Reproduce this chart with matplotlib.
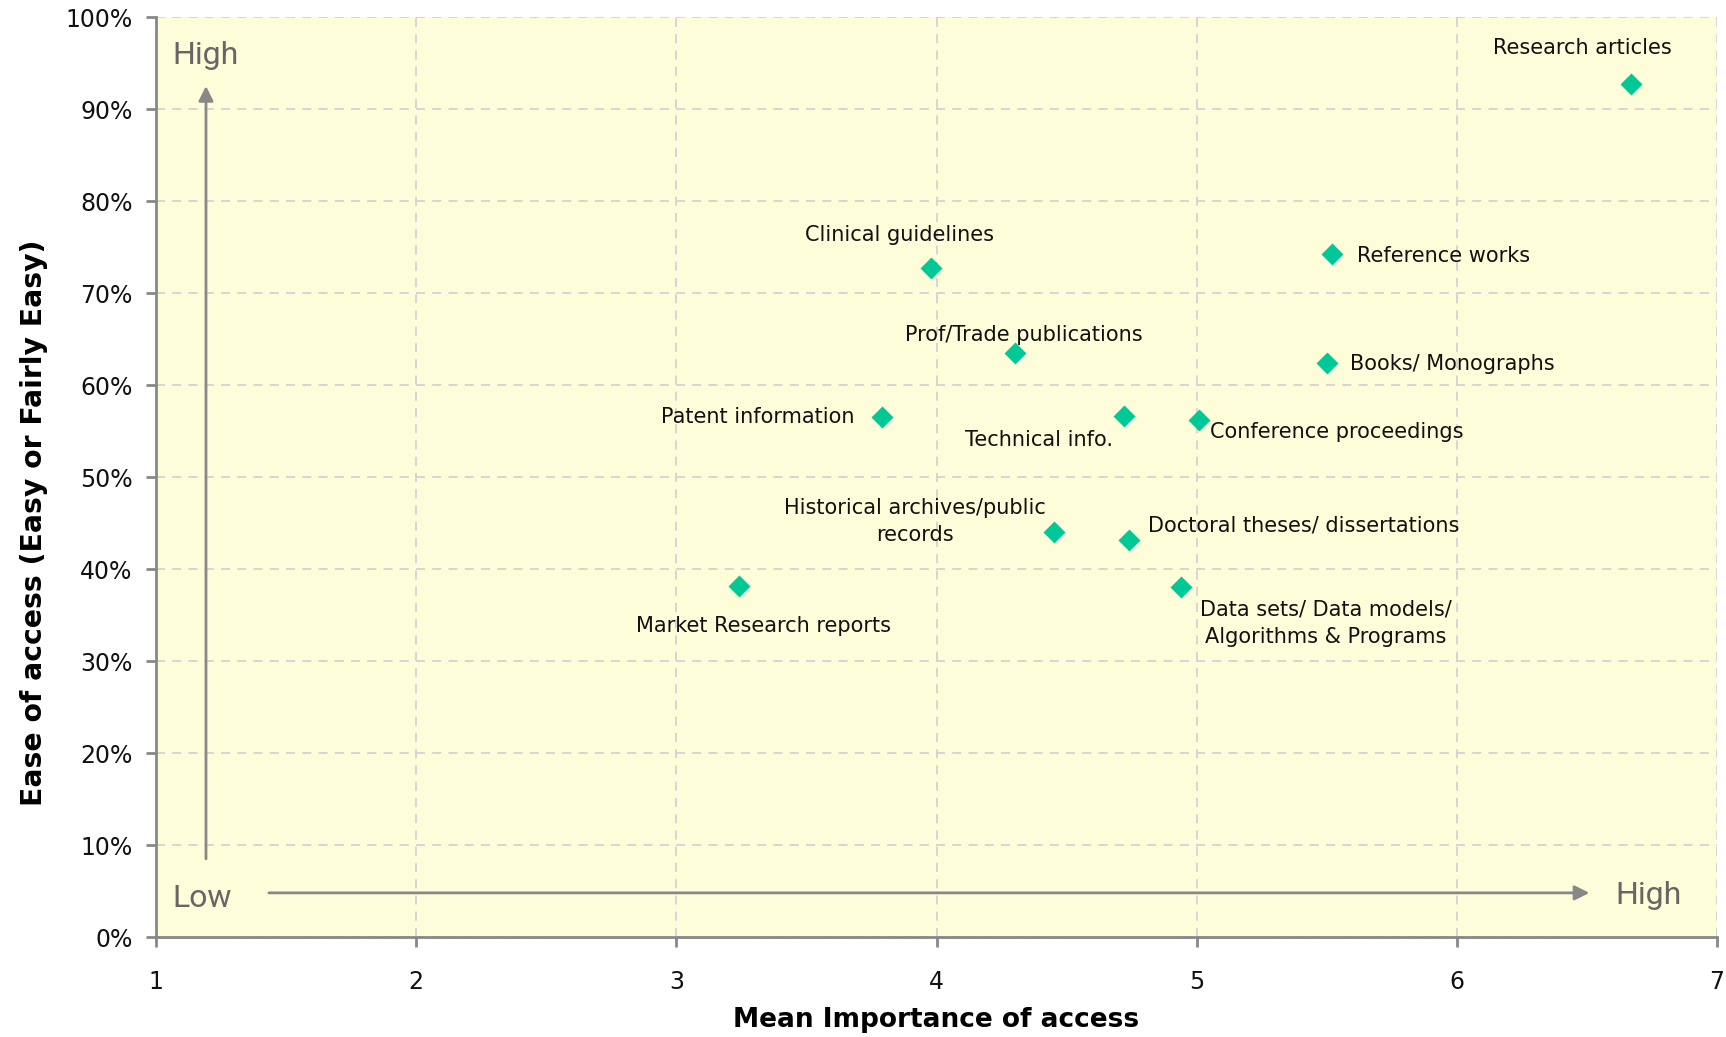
import numpy as np
import matplotlib
matplotlib.use("Agg")
import matplotlib.pyplot as plt
from matplotlib.ticker import PercentFormatter

# data
labels = ["Research articles", "Reference works", "Books/ Monographs",
          "Clinical guidelines", "Prof/Trade publications", "Patent information",
          "Technical info.", "Conference proceedings",
          "Historical archives/public\nrecords", "Doctoral theses/ dissertations",
          "Data sets/ Data models/\nAlgorithms & Programs", "Market Research reports"]
importance = [6.67, 5.52, 5.50, 3.98, 4.30, 3.79, 4.72, 5.01, 4.45, 4.74, 4.94, 3.24]
ease = [92.7, 74.2, 62.4, 72.7, 63.5, 56.5, 56.6, 56.2, 44.0, 43.2, 38.0, 38.2]

# label offsets (points) and alignment
offsets = [(-35, 26, "center"), (18, -1, "left"), (17, -1, "left"),
           (-23, 24, "center"), (7, 13, "center"), (-20, 0, "right"),
           (-61, -17, "center"), (8, -9, "left"), (-100, 8, "center"),
           (14, 10, "left"), (104, -26, "center"), (18, -29, "center")]

plt.rcParams['font.family'] = ['DejaVu Sans']

fig = plt.figure(figsize=(17.26, 10.37), dpi=100)
ax = fig.add_axes([0.0904, 0.0964, 0.9044, 0.8872])
ax.set_facecolor("#fdfdd9")

ax.scatter(importance, ease, marker="D", s=125, color="#00c896", zorder=3, linewidths=0)

for lab, x, y, (dx, dy, ha) in zip(labels, importance, ease, offsets):
    ax.annotate(lab, (x, y), xytext=(dx, dy), textcoords="offset points",
                ha=ha, va="center", fontsize=15, color="#111111",
                multialignment="center", linespacing=1.45)

ax.set_xlim(1, 7)
ax.set_ylim(0, 100)
ax.set_xticks(np.arange(1, 8))
ax.set_yticks(np.arange(0, 101, 10))
ax.yaxis.set_major_formatter(PercentFormatter(decimals=0))
ax.grid(True, color="#d2d2d2", linestyle=(0, (5, 4)), linewidth=1.3)
ax.set_axisbelow(True)

for s in ["top", "right"]:
    ax.spines[s].set_visible(False)
for s in ["left", "bottom"]:
    ax.spines[s].set_color("#888888")
    ax.spines[s].set_linewidth(2)
ax.tick_params(colors="#888888", labelcolor="#111111", width=2, length=7,
               labelsize=17)
ax.tick_params(axis="x", pad=17)
ax.tick_params(axis="y", pad=10)

ax.set_xlabel("Mean Importance of access", fontsize=19, fontweight="bold")
ax.xaxis.set_label_coords(0.5, -0.076)
ax.set_ylabel("Ease of access (Easy or Fairly Easy)", fontsize=20.3, fontweight="bold")
ax.yaxis.set_label_coords(-0.0695, 0.45)

# Low/High guide arrows
arrow_kw = dict(arrowstyle="-|>", color="#888888", lw=2, mutation_scale=22)
ax.annotate("", xy=(0.032, 0.928), xytext=(0.032, 0.082), xycoords="axes fraction",
            arrowprops=arrow_kw)
ax.annotate("", xy=(0.920, 0.048), xytext=(0.0705, 0.048), xycoords="axes fraction",
            arrowprops=arrow_kw)
hl = dict(fontsize=23, color="#666666", family="Roboto", va="center")
ax.text(0.0106, 0.958, "High", transform=ax.transAxes, ha="left", **hl)
ax.text(0.0106, 0.042, "Low", transform=ax.transAxes, ha="left", **hl)
ax.text(0.956, 0.045, "High", transform=ax.transAxes, ha="center", **hl)

fig.savefig("out.png", dpi=100)
